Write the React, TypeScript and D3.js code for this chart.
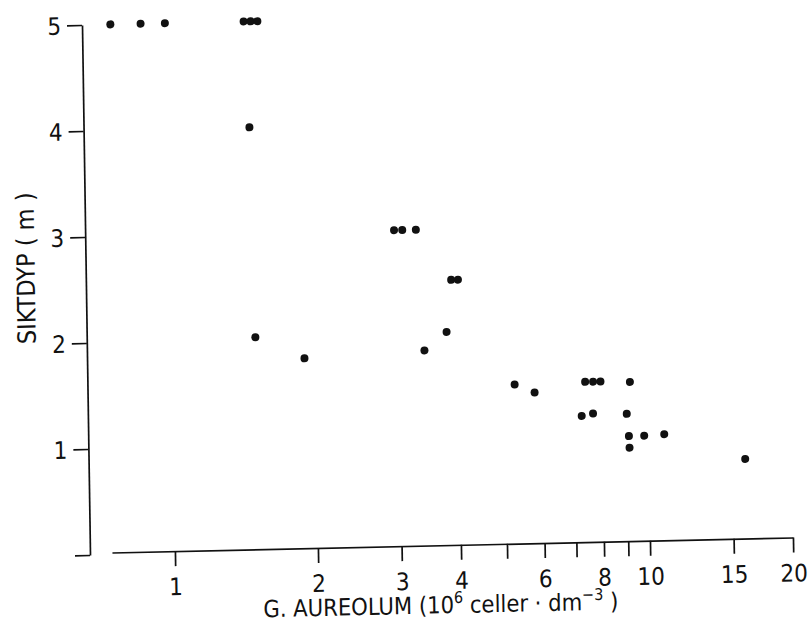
import React, { useRef, useEffect } from 'react'
import * as d3 from 'd3'

// G. aureolum cell counts (10^6 cells per dm3) vs secchi depth (m)
const cellCounts = [0.76, 0.88, 0.99, 1.45, 1.5, 1.55, 1.48, 1.5, 1.9, 2.96, 3.08, 3.29, 3.89, 4.02, 3.79, 3.4,
  5.25, 5.78, 7.39, 7.68, 7.96, 9.18, 7.25, 7.66, 9.02, 9.1, 9.8, 10.8, 9.12, 15.96]
const depths = [5, 5, 5, 5, 5, 5, 4.0, 2.02, 1.81, 3.0, 3.0, 3.0, 2.52, 2.52, 2.03, 1.86,
  1.52, 1.44, 1.53, 1.53, 1.53, 1.52, 1.21, 1.23, 1.22, 1.01, 1.01, 1.02, 0.9, 0.77]

const xTicks = [1, 2, 3, 4, 5, 6, 7, 8, 9, 10, 15, 20]
const xLabelled = [1, 2, 3, 4, 6, 8, 10, 15, 20]
const yTicks = [0, 1, 2, 3, 4, 5]

const font = '"DejaVu Sans Condensed", "Liberation Sans Narrow", sans-serif'

function App() {
  const svgRef = useRef<SVGSVGElement>(null)

  useEffect(() => {
    const svg = d3.select(svgRef.current)
    svg.selectAll('*').remove()

    const x = d3.scaleLog().domain([0.737, 20]).range([22, 703])
    const y = d3.scaleLinear().domain([0, 5]).range([0, -530])

    // the scanned figure is slightly skewed, so the whole plot sits in a sheared group
    const g = svg.append('g').attr('transform', 'matrix(1,-0.022,0.0151,1,90,555)')

    const xAxis = g.append('g').attr('transform', 'translate(0,-2)')
      .call(d3.axisBottom(x).tickValues(xTicks).tickSize(15).tickSizeOuter(0)
        .tickFormat(d => (xLabelled.includes(+d) ? String(d) : '')))
    xAxis.selectAll('text').attr('y', 44).attr('dy', 0)

    const yAxis = g.append('g')
      .call(d3.axisLeft(y).tickValues(yTicks).tickSize(15).tickSizeOuter(0)
        .tickFormat(d => (+d === 0 ? '' : String(d))))
    yAxis.selectAll('text').attr('x', -21).attr('dy', '0.36em')

    g.selectAll('.domain, .tick line').attr('stroke', '#111').attr('stroke-width', 1.7)
    g.selectAll('.tick text').attr('font-family', font).attr('font-size', 24).attr('fill', '#111')

    g.selectAll('.dot').data(cellCounts).join('circle').attr('class', 'dot')
      .attr('cx', d => x(d))
      .attr('cy', (d, i) => y(depths[i]))
      .attr('r', 4)
      .attr('fill', '#111')

    const title = g.append('text')
      .attr('x', 350).attr('y', 66)
      .attr('text-anchor', 'middle')
      .attr('font-family', font).attr('font-size', 23.5).attr('fill', '#111')
    title.append('tspan').text('G. AUREOLUM (10')
    title.append('tspan').attr('dy', -10).attr('font-size', 16).text('6')
    title.append('tspan').attr('dy', 10).text(' celler · dm')
    title.append('tspan').attr('dy', -10).attr('font-size', 16).text('−3')
    title.append('tspan').attr('dy', 10).text(' )')

    g.append('text')
      .attr('transform', 'translate(-51,-288) rotate(-90)')
      .attr('text-anchor', 'middle')
      .attr('font-family', font).attr('font-size', 25).attr('fill', '#111')
      .text('SIKTDYP ( m )')
  }, [])

  return (
    <svg ref={svgRef} width={808} height={635}
      style={{ position: 'absolute', left: 0, top: 0, background: '#fff' }} />
  )
}

export default App
